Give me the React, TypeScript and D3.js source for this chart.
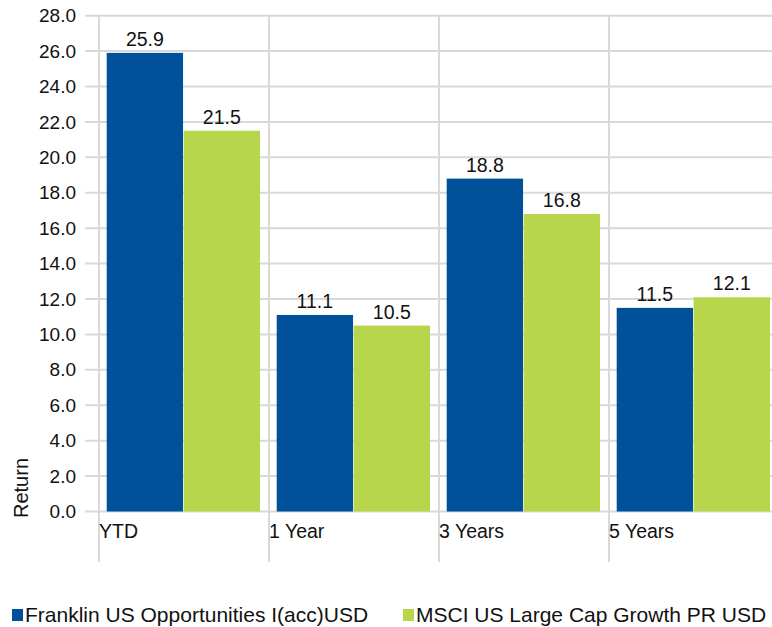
import { useEffect, useRef } from 'react';
import * as d3 from 'd3';

const categories = ['YTD', '1 Year', '3 Years', '5 Years'];
const seriesNames = ['Franklin US Opportunities I(acc)USD', 'MSCI US Large Cap Growth PR USD'];
const franklin = [25.9, 11.1, 18.8, 11.5];
const msci = [21.5, 10.5, 16.8, 12.1];
const yTicks = [0, 2, 4, 6, 8, 10, 12, 14, 16, 18, 20, 22, 24, 26, 28];

const colors = ['#00519A', '#B8D64B'];
const width = 772;
const height = 627;
const font = 'Liberation Sans, Arial, sans-serif';

export default function App() {
  const svgRef = useRef<SVGSVGElement>(null);

  useEffect(() => {
    if (!svgRef.current) return;
    const svg = d3.select(svgRef.current);
    svg.selectAll('*').remove();

    const values = [franklin, msci];

    const x0 = d3.scaleBand<string>()
      .domain(categories)
      .range([99, 779])
      .padding(0);

    const x1 = d3.scaleBand<string>()
      .domain(seriesNames)
      .range([7.7, 161])
      .paddingInner(0.008);

    const y = d3.scaleLinear()
      .domain([0, 28])
      .range([511.5, 15.7]);

    // horizontal grid
    svg.append('g')
      .selectAll('line')
      .data(yTicks)
      .join('line')
      .attr('x1', 85)
      .attr('x2', 779)
      .attr('y1', d => y(d))
      .attr('y2', d => y(d))
      .attr('stroke', '#D9D9D9')
      .attr('stroke-width', 2);

    // vertical grid
    const vx = categories.map(c => x0(c) ?? 0).concat([779]);
    svg.append('g')
      .selectAll('line')
      .data(vx)
      .join('line')
      .attr('x1', d => d)
      .attr('x2', d => d)
      .attr('y1', y(28))
      .attr('y2', 562)
      .attr('stroke', '#D9D9D9')
      .attr('stroke-width', 2);

    // y tick labels
    svg.append('g')
      .selectAll('text')
      .data(yTicks)
      .join('text')
      .attr('x', 76)
      .attr('y', d => y(d))
      .attr('dy', '0.35em')
      .attr('text-anchor', 'end')
      .style('font-family', font)
      .style('font-size', '19px')
      .style('fill', '#111')
      .text(d => d.toFixed(1));

    // y axis title
    svg.append('text')
      .attr('transform', 'translate(28,518) rotate(-90)')
      .style('font-family', font)
      .style('font-size', '20px')
      .style('fill', '#111')
      .text('Return');

    // bars
    const groups = svg.append('g')
      .selectAll('g')
      .data(categories)
      .join('g')
      .attr('transform', c => `translate(${x0(c)},0)`);

    seriesNames.forEach((s, si) => {
      groups.append('rect')
        .attr('x', x1(s) ?? 0)
        .attr('width', x1.bandwidth())
        .attr('y', (_, i) => y(values[si][i]))
        .attr('height', (_, i) => y(0) - y(values[si][i]))
        .attr('fill', colors[si]);

      groups.append('text')
        .attr('x', (x1(s) ?? 0) + x1.bandwidth() / 2)
        .attr('y', (_, i) => y(values[si][i]) - 7)
        .attr('text-anchor', 'middle')
        .style('font-family', font)
        .style('font-size', '19.5px')
        .style('fill', '#111')
        .text((_, i) => values[si][i].toFixed(1));
    });

    // category labels
    groups.append('text')
      .attr('x', 0)
      .attr('y', 538)
      .style('font-family', font)
      .style('font-size', '19.5px')
      .style('fill', '#111')
      .text(c => c);

    // legend
    const legendX = [12, 403];
    const legend = svg.append('g')
      .selectAll('g')
      .data(seriesNames)
      .join('g')
      .attr('transform', (_, i) => `translate(${legendX[i]},0)`);

    legend.append('rect')
      .attr('x', 0)
      .attr('y', 609)
      .attr('width', 11)
      .attr('height', 12)
      .attr('fill', (_, i) => colors[i]);

    legend.append('text')
      .attr('x', 13)
      .attr('y', 622)
      .style('font-family', font)
      .style('font-size', '21px')
      .style('fill', '#111')
      .text(d => d);
  }, []);

  return (
    <svg
      ref={svgRef}
      width={width}
      height={height}
      viewBox={`0 0 ${width} ${height}`}
      style={{ position: 'absolute', left: 0, top: 0, background: '#fff' }}
    />
  );
}
